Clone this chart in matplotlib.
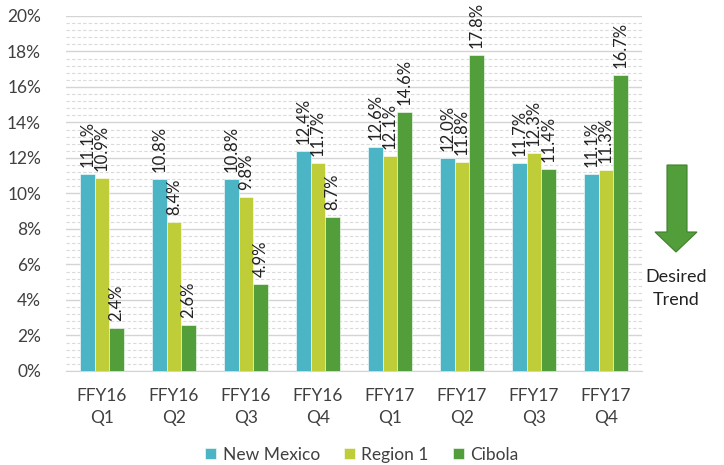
import matplotlib
matplotlib.use("Agg")
import matplotlib.pyplot as plt
import numpy as np
from matplotlib.ticker import MultipleLocator, FuncFormatter
from matplotlib.patches import Polygon

plt.rcParams['font.family'] = ['Lato', 'DejaVu Sans']

categories = ["FFY16\nQ1", "FFY16\nQ2", "FFY16\nQ3", "FFY16\nQ4",
              "FFY17\nQ1", "FFY17\nQ2", "FFY17\nQ3", "FFY17\nQ4"]
new_mexico = [11.1, 10.8, 10.8, 12.4, 12.6, 12.0, 11.7, 11.1]
region_1 = [10.9, 8.4, 9.8, 11.7, 12.1, 11.8, 12.3, 11.3]
cibola = [2.4, 2.6, 4.9, 8.7, 14.6, 17.8, 11.4, 16.7]
series_names = ["New Mexico", "Region 1", "Cibola"]
colors = ["#4BB5C6", "#BFCE38", "#529E3A"]

fig = plt.figure(figsize=(7.24, 4.65), dpi=100)
ax = fig.add_axes([0.0912, 0.2022, 0.7956, 0.7634])

x = np.arange(len(categories))
bw = 0.2
for i, (vals, name, c) in enumerate(zip([new_mexico, region_1, cibola], series_names, colors)):
    pos = x + (i - 1) * bw
    bars = ax.bar(pos, vals, width=bw, color=c, label=name, edgecolor='white', linewidth=0.4, zorder=3)
    for b, v in zip(bars, vals):
        ax.annotate(f"{v:.1f}%", (b.get_x() + b.get_width() / 2, v),
                    xytext=(0, 5), textcoords='offset points',
                    rotation=90, ha='center', va='bottom', fontsize=12, color='#222222',
                    zorder=4, annotation_clip=False)

ax.set_xlim(-0.5, len(categories) - 0.5)
ax.set_ylim(0, 20)
ax.yaxis.set_major_locator(MultipleLocator(2))
ax.yaxis.set_minor_locator(MultipleLocator(0.4))
ax.yaxis.set_major_formatter(FuncFormatter(lambda v, p: f"{v:.0f}%"))
ax.grid(axis='y', which='major', color='#D4D4D4', linewidth=1.0, zorder=0)
ax.grid(axis='y', which='minor', color='#DADADA', linewidth=0.8, linestyle=(0, (3, 2)), zorder=0)
ax.set_axisbelow(True)
for s in ['top', 'right', 'left']:
    ax.spines[s].set_visible(False)
ax.spines['bottom'].set_color('#D4D4D4')
ax.tick_params(axis='both', which='both', length=0)
ax.tick_params(axis='y', labelsize=12.5, labelcolor='#404040', pad=18)
ax.tick_params(axis='x', labelsize=12.5, labelcolor='#404040', pad=12)
ax.set_xticks(x)
ax.set_xticklabels(categories, linespacing=1.5)

leg = fig.legend(loc='center', bbox_to_anchor=(0.5, 0.022), ncol=3, frameon=False,
                 fontsize=12.5, handlelength=0.6, handleheight=0.6, handletextpad=0.4,
                 columnspacing=1.4, labelcolor='#404040')

W, H = 724, 465
pts = [(667, 165), (687, 165), (687, 232), (697, 232), (676, 252), (655, 232), (667, 232)]
poly = Polygon([(px / W, 1 - py / H) for px, py in pts], closed=True,
               transform=fig.transFigure, facecolor='#529E3A', edgecolor='#3F7F2C', linewidth=0.8)
fig.patches.append(poly)
fig.text(676 / W, 1 - 277 / H, "Desired", ha='center', va='center', fontsize=13, color='#222222')
fig.text(676 / W, 1 - 300 / H, "Trend", ha='center', va='center', fontsize=13, color='#222222')

fig.savefig("out.png", dpi=100)
